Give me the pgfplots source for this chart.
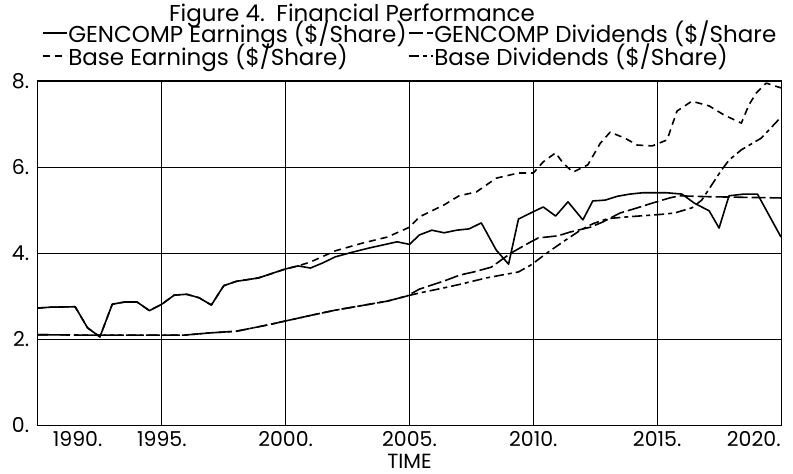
\documentclass[border=0pt]{standalone}
\usepackage{pgfplots}
\pgfplotsset{compat=1.18}
\usepackage{fontspec}
\setmainfont{Poppins}
\newcommand{\fsz}{\fontsize{23bp}{25bp}\selectfont}
\newcommand{\fsm}{\fontsize{20.5bp}{22bp}\selectfont}
\begin{document}
\fsz
\begin{tikzpicture}
\useasboundingbox (-38bp,-49bp) rectangle (755bp,425bp);
\begin{axis}[
  scale only axis, width=743bp, height=344bp,
  xmin=1990, xmax=2020, ymin=0, ymax=8,
  xtick={1995,2000,2005,2010,2015},
  xticklabels={1995.,2000.,2005.,2010.,2015.},
  extra x ticks={1991.6,2018.9},
  extra x tick labels={1990.,2020.},
  extra x tick style={grid=none},
  ytick={0,2,4,6,8},
  yticklabels={0.,2.,4.,6.,8.},
  /pgf/number format/assume math mode=true,
  grid=major,
  major grid style={black, line width=0.8bp},
  major tick length=0pt,
  axis line style={line width=1bp},
  tick label style={font=\fsm},
  xticklabel style={anchor=base, yshift=-21bp, inner sep=0pt},
  yticklabel style={xshift=-1bp},
  xlabel={TIME},
  every axis x label/.style={at={(axis description cs:0.5,0)}, anchor=base, yshift=-43bp, inner sep=0pt, font=\fsm},
  title={Figure 4.\enspace Financial Performance},
  every axis title/.style={at={(axis description cs:0.4226,1)}, anchor=base, yshift=59bp, font=\fsz},
  legend style={draw=none, fill=none, at={(0.5,1)}, anchor=south, yshift=11bp,
    font=\fsz, inner sep=0pt, row sep=-4bp, nodes={inner sep=1bp},
    /tikz/every even column/.append style={column sep=0bp}},
  legend columns=2,
  legend cell align=left,
  legend image code/.code={\draw[#1] (0bp,0bp) -- (24bp,0bp);},
  every axis plot/.append style={black, line width=1.6bp, line join=round},
]
\addplot[solid] coordinates {
(1990,2.72) (1990.5,2.74) (1991.5,2.75) (1992,2.26) (1992.5,2.05) (1993,2.81)
(1993.5,2.86) (1994,2.86) (1994.5,2.66) (1995,2.81) (1995.5,3.02) (1996,3.04)
(1996.5,2.96) (1997,2.79) (1997.5,3.24) (1998,3.34) (1998.9,3.42) (2000,3.63)
(2000.5,3.70) (2001,3.65) (2001.5,3.77) (2002,3.91) (2002.7,4.02) (2003.4,4.12)
(2004.5,4.26) (2005,4.20) (2005.4,4.42) (2005.9,4.53) (2006.4,4.47) (2006.9,4.53)
(2007.4,4.56) (2007.9,4.70) (2008.5,4.07) (2009,3.74) (2009.4,4.79) (2010,4.96)
(2010.4,5.07) (2010.9,4.86) (2011.4,5.19) (2012,4.77) (2012.4,5.21) (2012.9,5.23)
(2013.4,5.32) (2013.9,5.37) (2014.4,5.40) (2015.4,5.40) (2016,5.37) (2016.5,5.16)
(2017.1,4.98) (2017.5,4.58) (2017.9,5.33) (2018.5,5.37) (2019.05,5.37) (2020,4.37)
};
\addlegendentry{GENCOMP Earnings (\$/Share)}
\addplot[dash pattern=on 14bp off 4bp] coordinates {
(1990,2.10) (1992,2.09) (1994,2.09) (1995.9,2.09) (1996.9,2.14) (1998,2.18)
(1999.3,2.33) (2000,2.42) (2001.1,2.56) (2002,2.67) (2003,2.77) (2004.1,2.88)
(2004.9,3.00) (2005.4,3.16) (2006.4,3.35) (2007.05,3.49) (2007.6,3.56) (2008.3,3.67)
(2009.1,4.00) (2009.9,4.26) (2010.2,4.35) (2011.0,4.40) (2011.5,4.49) (2012.3,4.60)
(2012.8,4.72) (2013.5,4.93) (2014.2,5.05) (2014.8,5.16) (2015.5,5.28) (2015.9,5.33)
(2017,5.31) (2020,5.28)
};
\addlegendentry{GENCOMP Dividends (\$/Share}
\addplot[dash pattern=on 7bp off 5bp] coordinates {
(1990,2.72) (1990.5,2.74) (1991.5,2.75) (1992,2.26) (1992.5,2.05) (1993,2.81)
(1993.5,2.86) (1994,2.86) (1994.5,2.66) (1995,2.81) (1995.5,3.02) (1996,3.04)
(1996.5,2.96) (1997,2.79) (1997.5,3.24) (1998,3.34) (1998.9,3.42) (2000,3.63)
(2000.5,3.70) (2001,3.79) (2002,4.05) (2003.1,4.23) (2004.1,4.37) (2005,4.60)
(2005.4,4.84) (2006.4,5.12) (2007,5.33) (2007.7,5.42) (2008.5,5.74) (2009.4,5.86)
(2010,5.86) (2010.4,6.12) (2010.9,6.33) (2011.2,6.09) (2011.6,5.88) (2012.2,6.05)
(2012.7,6.55) (2013.1,6.81) (2013.7,6.67) (2014.2,6.51) (2014.8,6.49) (2015.4,6.63)
(2015.8,7.30) (2016.4,7.53) (2017.1,7.42) (2017.7,7.21) (2018.4,7.02) (2018.7,7.44)
(2019,7.72) (2019.4,7.95) (2020,7.84)
};
\addlegendentry{Base Earnings (\$/Share)}
\addplot[dash pattern=on 10bp off 4bp on 4bp off 4bp] coordinates {
(1990,2.10) (1992,2.09) (1994,2.09) (1995.9,2.09) (1996.9,2.14) (1998,2.18)
(1999.3,2.33) (2000,2.42) (2001.1,2.56) (2002,2.67) (2003,2.77) (2004.1,2.88)
(2004.9,3.00) (2005.4,3.07) (2006.4,3.19) (2007.1,3.28) (2008.1,3.42) (2009.4,3.56)
(2009.9,3.72) (2010.6,4.02) (2011.2,4.26) (2011.9,4.53) (2012.4,4.68) (2013.0,4.80)
(2013.8,4.84) (2015.2,4.90) (2015.7,4.93) (2016.4,5.05) (2016.8,5.23) (2017.2,5.58)
(2017.6,5.93) (2017.9,6.16) (2018.4,6.40) (2019.2,6.67) (2020,7.16)
};
\addlegendentry{Base Dividends (\$/Share)}
\end{axis}
\end{tikzpicture}
\end{document}
